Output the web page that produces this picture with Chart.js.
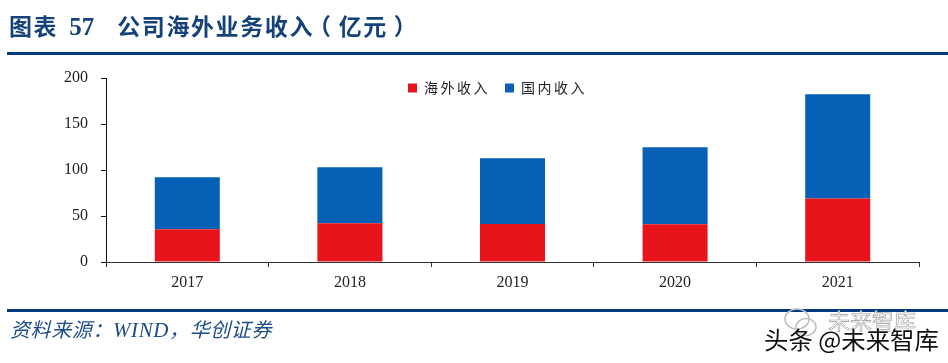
<!DOCTYPE html>
<html>
<head>
<meta charset="utf-8">
<script src="https://cdn.jsdelivr.net/npm/chart.js@4"></script>
<style>
    html, body { margin: 0; padding: 0; background: #fff; }
    #page { position: relative; width: 948px; height: 363px; overflow: hidden; }
    #page canvas { position: absolute; left: 0; top: 0; }
    .rule { position: absolute; left: 7px; right: 0; height: 3px; background: #003a7e; }
    .txt { position: absolute; white-space: nowrap; }
    #title { left: 9px; top: 9px; font: bold 23px/32px "Noto Sans CJK SC"; letter-spacing: 1.6px; color: #15427a; }
    #title b { font-family: "Liberation Serif"; font-size: 25px; letter-spacing: 0; margin: 0 23px 0 11px; }
    #title .pl { position: relative; left: -6px; }
    #title .pr { margin-left: 6px; }
    #source { left: 10px; top: 315px; font: italic 20px/28px "Noto Sans CJK SC"; letter-spacing: 0.6px; color: #1d4d86; }
    #source i { font-family: "Liberation Serif"; font-size: 21px; }
    #mark1 { left: 828px; top: 304px; font: 22px/30px "Noto Sans CJK SC"; color: #fff; -webkit-text-stroke: 0.6px #999; }
    #mark2 { left: 764px; top: 321px; font: 24.4px/36px "Noto Sans CJK SC"; color: #111; text-shadow: 0 0 2px #fff, 0 0 2px #fff; }
    #icon { position: absolute; left: 782px; top: 305px; }
</style>
</head>
<body>
<div id="page">
    <canvas id="revenueChart" width="948" height="363"></canvas>
    <div class="txt" id="title">图表<b>57</b>公司海外业务收入<span class="pl">（</span>亿元<span class="pr">）</span></div>
    <div class="rule" style="top:52px"></div>
    <div class="rule" style="top:309px"></div>
    <div class="txt" id="source">资料来源：<i>WIND</i>，华创证券</div>
    <svg id="icon" width="40" height="36" fill="none" stroke="#bbb" stroke-width="1.5">
        <ellipse cx="15" cy="14" rx="12" ry="10"/>
        <ellipse cx="24" cy="22" rx="10" ry="8.5"/>
    </svg>
    <div class="txt" id="mark1">未来智库</div>
    <div class="txt" id="mark2">头条 @未来智库</div>
</div>
<script>
    // 数据
    var years = ['2017', '2018', '2019', '2020', '2021'];
    var overseas = [35.5, 42, 41.3, 41, 69];
    var domestic = [56.5, 61, 71.4, 83.7, 113.3];
    var yTicks = [0, 50, 100, 150, 200];

    var axisFont = { family: '"Liberation Serif"', size: 16 };

    // 图例放在绘图区内，字距加宽
    var legendPlace = {
        id: 'legendPlace',
        afterLayout: function (chart) {
            var legend = chart.legend;
            var h = legend.bottom - legend.top;
            legend.left += 28;
            legend.right += 28;
            legend.top = 66;
            legend.bottom = legend.top + h;
            if (!legend.spaced) {
                var draw = legend.draw;
                legend.draw = function () {
                    chart.ctx.save();
                    chart.ctx.letterSpacing = '2.5px';
                    draw.call(legend);
                    chart.ctx.restore();
                };
                legend.spaced = true;
            }
        }
    };

    var ctx = document.getElementById('revenueChart').getContext('2d');
    var revenueChart = new Chart(ctx, {
        type: 'bar',
        data: {
            labels: years,
            datasets: [{
                label: '海外收入',
                data: overseas,
                backgroundColor: '#e8141c',
                barPercentage: 0.4,
                categoryPercentage: 1
            }, {
                label: '国内收入',
                data: domestic,
                backgroundColor: '#0560b6',
                barPercentage: 0.4,
                categoryPercentage: 1
            }]
        },
        options: {
            responsive: false,
            animation: false,
            layout: { padding: { left: 0, right: 29, top: 39, bottom: 0 } },
            plugins: {
                tooltip: { enabled: false },
                legend: {
                    position: 'top',
                    labels: {
                        boxWidth: 9,
                        boxHeight: 9,
                        padding: 15,
                        color: '#222',
                        font: { family: '"Noto Sans CJK SC"', size: 14 }
                    }
                }
            },
            scales: {
                x: {
                    stacked: true,
                    afterFit: function (scale) { scale.height = 101; },
                    border: { color: '#333', width: 1 },
                    grid: { drawOnChartArea: false, color: '#333', tickLength: 5 },
                    ticks: { color: '#222', font: axisFont, padding: 6, maxRotation: 0 }
                },
                y: {
                    stacked: true,
                    min: 0,
                    max: 200,
                    afterFit: function (scale) { scale.width = 106; },
                    afterBuildTicks: function (scale) {
                        scale.ticks = yTicks.map(function (v) { return { value: v }; });
                    },
                    border: { color: '#111', width: 1 },
                    grid: { drawOnChartArea: false, color: '#111', tickLength: 5 },
                    ticks: { color: '#222', font: axisFont, padding: 13 }
                }
            }
        },
        plugins: [legendPlace]
    });
</script>
</body>
</html>
